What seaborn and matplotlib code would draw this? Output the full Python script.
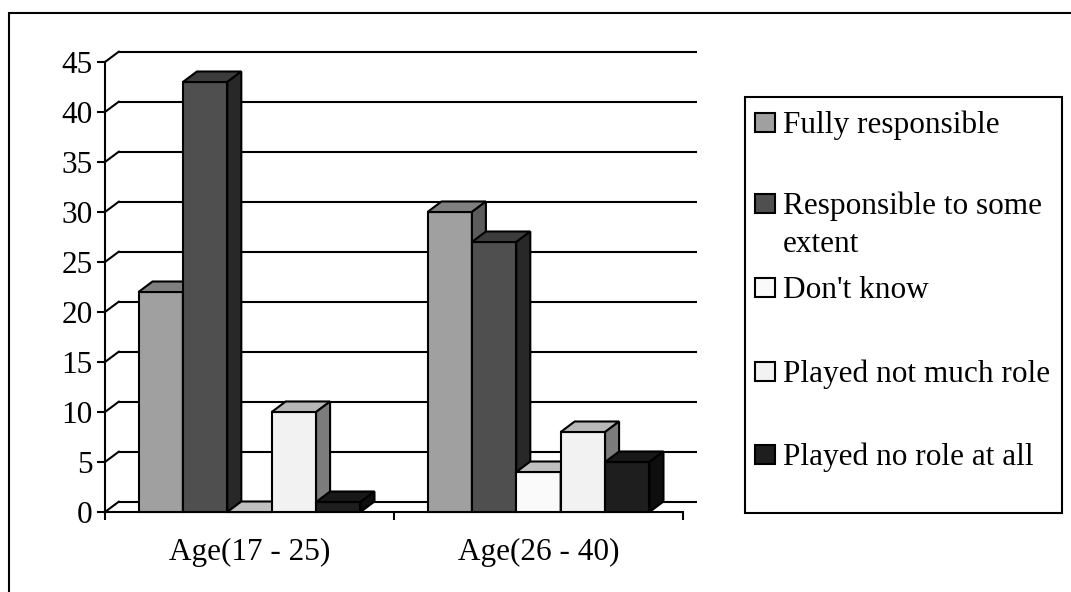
import matplotlib
matplotlib.use("Agg")
import matplotlib.pyplot as plt
from matplotlib.patches import Polygon, Rectangle
import pandas as pd
import seaborn as sns

# ---- data ----
categories = ["Age(17 - 25)", "Age(26 - 40)"]
responses = ["Fully responsible", "Responsible to some extent", "Don't know",
             "Played not much role", "Played no role at all"]
fully_responsible = [22, 30]
responsible_some_extent = [43, 27]
dont_know = [0, 4]
not_much_role = [10, 8]
no_role_at_all = [1, 5]
y_ticks = [0, 5, 10, 15, 20, 25, 30, 35, 40, 45]

# ---- styling ----
front_colors = ["#a0a0a0", "#4f4f4f", "#fafafa", "#f2f2f2", "#1e1e1e"]
top_colors = ["#808080", "#3c3c3c", "#c0c0c0", "#b8b8b8", "#181818"]
side_colors = ["#5c5c5c", "#282828", "#808080", "#7c7c7c", "#0e0e0e"]

sns.set_theme(style="white")
plt.rcParams["font.family"] = ["Liberation Serif", "DejaVu Serif"]
FS = 22.5
LW = 1.5

df = pd.DataFrame({
    "age": categories * len(responses),
    "response": [r for r in responses for _ in categories],
    "value": (fully_responsible + responsible_some_extent + dont_know
              + not_much_role + no_role_at_all),
})

W, H = 1071, 592
fig = plt.figure(figsize=(W / 100, H / 100), dpi=100)
# plot box: x from 105 to 683 px, y zero at 512 px, 45 at 62 px
ax = fig.add_axes([105 / W, (H - 512) / H, 578 / W, 450 / H])

sns.barplot(data=df, x="age", y="value", hue="response", order=categories,
            hue_order=responses, palette=front_colors, saturation=1,
            width=0.768, errorbar=None, edgecolor="black", linewidth=LW,
            legend=False, ax=ax, zorder=3)

ax.set_xlim(-0.5, 1.5)
ax.set_ylim(0, 45)

# depth of the pseudo-3D effect, in data units (14 px right, 10.5 px up)
dx = 14 / 289
dy = 10.5 / 10

# back wall grid lines and left wall diagonals
for v in y_ticks:
    ax.plot([-0.5 + dx, 1.5 + dx], [v + dy, v + dy], color="black", lw=LW,
            clip_on=False, zorder=1, solid_capstyle="butt")
    ax.plot([-0.5, -0.5 + dx], [v, v + dy], color="black", lw=LW,
            clip_on=False, zorder=1)

# add top and side faces to every bar, painting left to right
bars = []
for i, cont in enumerate(ax.containers):
    for bar in cont:
        bars.append((bar.get_x(), i, bar))
bars.sort(key=lambda t: t[0])
for k, (x0, i, bar) in enumerate(bars):
    z = 3 + k * 0.1
    w = bar.get_width()
    h = bar.get_height()
    x1 = x0 + w
    bar.set_zorder(z)
    top = Polygon([(x0, h), (x1, h), (x1 + dx, h + dy), (x0 + dx, h + dy)],
                  closed=True, facecolor=top_colors[i], edgecolor="black",
                  lw=LW, zorder=z + 0.01, clip_on=False, joinstyle="miter")
    side = Polygon([(x1, 0), (x1 + dx, dy), (x1 + dx, h + dy), (x1, h)],
                   closed=True, facecolor=side_colors[i], edgecolor="black",
                   lw=LW, zorder=z + 0.02, clip_on=False, joinstyle="miter")
    ax.add_patch(side)
    ax.add_patch(top)
    bar.set_clip_on(False)

# axes
for s in ["top", "right"]:
    ax.spines[s].set_visible(False)
for s in ["left", "bottom"]:
    ax.spines[s].set_color("black")
    ax.spines[s].set_linewidth(LW)
    ax.spines[s].set_zorder(2)

ax.set_yticks(y_ticks)
ax.set_yticklabels([str(v) for v in y_ticks])
ax.tick_params(axis="y", direction="out", length=6, width=LW, color="black",
               pad=3, labelsize=FS, labelcolor="black", left=True)

ax.set_xticks([-0.5, 0.5, 1.5])
ax.set_xticklabels(["", "", ""])
ax.set_xticks([0, 1], minor=True)
ax.set_xticklabels(categories, minor=True)
ax.tick_params(axis="x", which="major", direction="out", length=6, width=LW,
               color="black", bottom=True)
ax.tick_params(axis="x", which="minor", length=0, pad=19, labelsize=FS,
               labelcolor="black")
ax.set_xlabel("")
ax.set_ylabel("")
ax.grid(False)
ax.patch.set_alpha(0)

# outer chart frame
fig.add_artist(Rectangle((9 / W, -0.1), 1.2, 1.1 - 13 / H,
                         transform=fig.transFigure, fill=False,
                         edgecolor="black", lw=LW))

# legend box
lx0, lx1, ly0, ly1 = 745, 1062, 97, 513
fig.add_artist(Rectangle((lx0 / W, 1 - ly1 / H), (lx1 - lx0) / W,
                         (ly1 - ly0) / H, transform=fig.transFigure,
                         facecolor="white", edgecolor="black", lw=LW))
legend_lines = [["Fully responsible"], ["Responsible to some", "extent"],
                ["Don't know"], ["Played not much role"],
                ["Played no role at all"]]
baselines = [133, 214, 298, 382, 465]
for color, lines, b in zip(front_colors, legend_lines, baselines):
    fig.add_artist(Rectangle((755 / W, 1 - (b - 1) / H), 20 / W, 19 / H,
                             transform=fig.transFigure, facecolor=color,
                             edgecolor="black", lw=LW))
    for j, line in enumerate(lines):
        fig.text(783 / W, 1 - (b + 38 * j) / H, line, fontsize=FS,
                 ha="left", va="baseline", color="black")

fig.savefig("out.png", dpi=100)
